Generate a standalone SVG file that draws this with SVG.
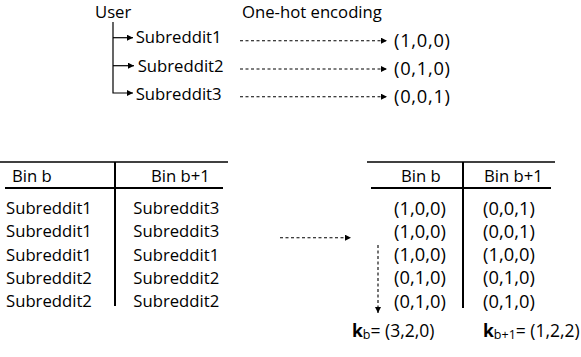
<svg xmlns="http://www.w3.org/2000/svg" width="581" height="357" viewBox="0 0 581 357">
<defs>
<style>
text{font-family:"Open Sans","Liberation Sans",sans-serif;font-size:16.7px;fill:#000}
.tup{font-size:18.3px}
.rule{stroke:#000;fill:none}
.solid{stroke:#000;stroke-width:1.2;fill:none}
.dash{stroke:#000;stroke-width:1.1;fill:none;stroke-dasharray:3 2.5}
.sub{font-size:12.5px}
</style>
<marker id="ah" markerUnits="userSpaceOnUse" markerWidth="7" markerHeight="7" refX="6" refY="3" orient="auto">
<path d="M0,0 L6,3 L0,6 z" fill="#000"/>
</marker>
</defs>
<rect width="581" height="357" fill="#fff"/>

<g id="connectors">
<path class="solid" d="M113,22 V93 H133" marker-end="url(#ah)"/>
<path class="solid" d="M113,37.7 H133" marker-end="url(#ah)"/>
<path class="solid" d="M113,65.7 H134" marker-end="url(#ah)"/>
<path class="dash" d="M240,40.7 H387" marker-end="url(#ah)"/>
<path class="dash" d="M240,69 H387" marker-end="url(#ah)"/>
<path class="dash" d="M240,96.7 H387" marker-end="url(#ah)"/>
<path class="dash" d="M280,237.7 H351" marker-end="url(#ah)"/>
<path class="dash" d="M378,245 V313" marker-end="url(#ah)"/>
</g>

<g id="user"><text x="95" y="17.5">User</text></g>
<g id="header-onehot"><text x="242" y="17.5">One-hot encoding</text></g>

<g id="subreddit1"><text x="135.7" y="43.3">Subreddit1</text></g>
<g id="subreddit2"><text x="137.7" y="71.7">Subreddit2</text></g>
<g id="subreddit3"><text x="135.7" y="99.5">Subreddit3</text></g>

<g id="enc1"><text class="tup" x="394" y="46.5" textLength="56" lengthAdjust="spacing">(1,0,0)</text></g>
<g id="enc2"><text class="tup" x="394" y="75" textLength="56" lengthAdjust="spacing">(0,1,0)</text></g>
<g id="enc3"><text class="tup" x="394" y="103" textLength="56" lengthAdjust="spacing">(0,0,1)</text></g>

<g id="left-table">
<line class="rule" x1="0" y1="162" x2="228" y2="162" stroke-width="1.5"/>
<line class="rule" x1="5" y1="188" x2="223" y2="188" stroke-width="2"/>
<line class="rule" x1="115" y1="162" x2="115" y2="306" stroke-width="2"/>
<text x="12" y="182">Bin b</text>
<text x="151" y="182">Bin b+1</text>
<text x="6" y="214">Subreddit1</text>
<text x="6" y="237.2">Subreddit1</text>
<text x="6" y="260.5">Subreddit1</text>
<text x="6" y="283.7">Subreddit2</text>
<text x="6" y="307">Subreddit2</text>
<text x="133.3" y="214">Subreddit3</text>
<text x="133.3" y="237.2">Subreddit3</text>
<text x="133.3" y="260.5">Subreddit1</text>
<text x="133.3" y="283.7">Subreddit2</text>
<text x="133.3" y="307">Subreddit2</text>
</g>

<g id="right-table">
<line class="rule" x1="367" y1="162" x2="555" y2="162" stroke-width="1.5"/>
<line class="rule" x1="371" y1="188" x2="551" y2="188" stroke-width="2"/>
<line class="rule" x1="463" y1="162" x2="463" y2="308" stroke-width="2"/>
<text x="401" y="182">Bin b</text>
<text x="484" y="182">Bin b+1</text>
<text class="tup" x="394" y="214.5" textLength="52" lengthAdjust="spacing">(1,0,0)</text>
<text class="tup" x="394" y="237.7" textLength="52" lengthAdjust="spacing">(1,0,0)</text>
<text class="tup" x="394" y="261" textLength="52" lengthAdjust="spacing">(1,0,0)</text>
<text class="tup" x="394" y="284.2" textLength="52" lengthAdjust="spacing">(0,1,0)</text>
<text class="tup" x="394" y="307.5" textLength="52" lengthAdjust="spacing">(0,1,0)</text>
<text class="tup" x="483" y="214.5" textLength="52" lengthAdjust="spacing">(0,0,1)</text>
<text class="tup" x="483" y="237.7" textLength="52" lengthAdjust="spacing">(0,0,1)</text>
<text class="tup" x="483" y="261" textLength="52" lengthAdjust="spacing">(1,0,0)</text>
<text class="tup" x="483" y="284.2" textLength="52" lengthAdjust="spacing">(0,1,0)</text>
<text class="tup" x="483" y="307.5" textLength="52" lengthAdjust="spacing">(0,1,0)</text>
</g>

<g id="kb"><text x="352" y="337"><tspan font-weight="bold" font-size="17.5">k</tspan><tspan class="sub" dy="2">b</tspan><tspan dy="-2" font-size="17.5">= (3,2,0)</tspan></text></g>
<g id="kb1"><text x="483" y="337"><tspan font-weight="bold" font-size="17.5">k</tspan><tspan class="sub" dy="2">b+1</tspan><tspan dy="-2" font-size="17.5">= (1,2,2)</tspan></text></g>
</svg>
